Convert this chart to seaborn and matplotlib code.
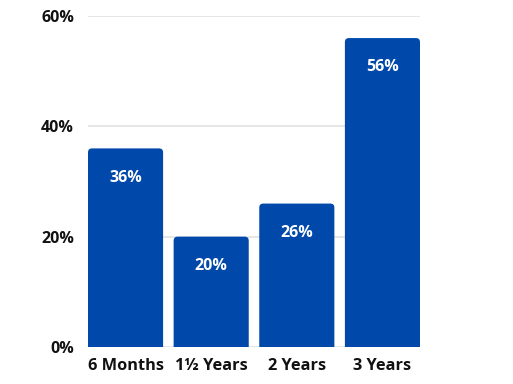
import matplotlib
matplotlib.use("Agg")
import matplotlib.pyplot as plt
from matplotlib.patches import FancyBboxPatch
import seaborn as sns
import pandas as pd

categories = ["6 Months", "1½ Years", "2 Years", "3 Years"]
values = [36, 20, 26, 56]
yticks = [0, 20, 40, 60]
ytick_labels = ["0%", "20%", "40%", "60%"]

sns.set_theme(style="white")
plt.rcParams['font.family'] = ['Open Sans', 'DejaVu Sans']

fig = plt.figure(figsize=(5.13, 3.84), dpi=100)
ax = fig.add_axes([88/513, 1-347/384, 332/513, 331/384])

df = pd.DataFrame({"cat": categories, "val": values})
color = "#0048AA"
sns.barplot(data=df, x="cat", y="val", color=color, saturation=1, width=0.877, ax=ax, zorder=3)

w = 0.877
ax.set_xlim(-w/2, len(categories) - 1 + w/2)
ax.set_ylim(0, 60)

# round the top corners of the bars
px_x = 332 / (len(categories) - 1 + w)
px_y = 331 / 60
aspect = px_x / px_y
r = 4 / px_x
for p in list(ax.patches):
    x0, y0 = p.get_x(), p.get_y()
    bw, bh = p.get_width(), p.get_height()
    p.set_visible(False)
    ext = r * aspect
    fb = FancyBboxPatch((x0, y0 - ext), bw, bh + ext,
                        boxstyle=f"round,pad=0,rounding_size={r}",
                        mutation_aspect=aspect, facecolor=color, edgecolor="none",
                        zorder=3, clip_on=True)
    ax.add_patch(fb)

ax.set_yticks(yticks)
ax.set_yticklabels(ytick_labels)
ax.set_xlabel("")
ax.set_ylabel("")
for y in yticks:
    ax.axhline(y, color="#e2e2e2", lw=1.2, zorder=1)
for s in ax.spines.values():
    s.set_visible(False)
ax.tick_params(axis="y", length=0, pad=10, labelsize=11.5, labelcolor="#111111")
ax.tick_params(axis="x", length=0, pad=8, labelsize=11.8, labelcolor="#111111")
for lab in ax.get_yticklabels() + ax.get_xticklabels():
    lab.set_fontweight("bold")

for i, v in enumerate(values):
    ax.annotate(f"{v}%", (i, v), xytext=(0, -21), textcoords="offset points",
                ha="center", va="center", color="white", fontsize=11.5, fontweight="bold", zorder=5)

fig.savefig("out.png", dpi=100)
